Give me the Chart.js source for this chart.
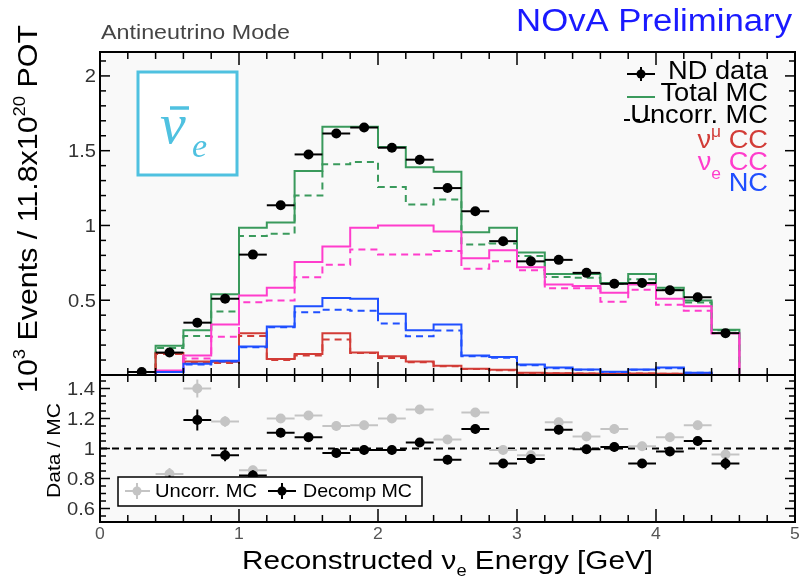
<!DOCTYPE html>
<html>
<head>
<meta charset="utf-8">
<script src="https://cdn.jsdelivr.net/npm/chart.js@4.4.0/dist/chart.umd.min.js"></script>
<style>
  body { margin: 0; background: #fff; }
  #wrap { position: relative; width: 805px; height: 581px; }
  canvas { position: absolute; left: 0; top: 0; }
</style>
</head>
<body>
<div id="wrap">
  <canvas id="mainChart" width="805" height="581"></canvas>
  <canvas id="ratioChart" width="805" height="581"></canvas>
</div>
<script>
// histogram bin edges (GeV), 0.2 GeV bins
var binEdges = [0, 0.2, 0.4, 0.6, 0.8, 1.0, 1.2, 1.4, 1.6, 1.8, 2.0, 2.2, 2.4,
                2.6, 2.8, 3.0, 3.2, 3.4, 3.6, 3.8, 4.0, 4.2, 4.4, 4.6, 4.8, 5.0];

// MC predictions per bin (10^3 events), solid = decomposed, dashed = uncorrected
var totalMC     = [0, 0, 0.195, 0.30, 0.54, 0.985, 1.02, 1.365, 1.66, 1.66, 1.525, 1.39, 1.36,
                   0.955, 0.985, 0.82, 0.675, 0.676, 0.616, 0.676, 0.583, 0.498, 0.303, 0, 0];
var uncorrMC    = [0, 0, 0.18, 0.26, 0.425, 0.93, 0.945, 1.20, 1.41, 1.425, 1.257, 1.14, 1.174,
                   0.873, 0.88, 0.795, 0.656, 0.65, 0.61, 0.64, 0.57, 0.485, 0.30, 0, 0];
var nueCC       = [0, 0, 0.03, 0.13, 0.337, 0.531, 0.583, 0.755, 0.86, 0.985, 1.0, 1.0, 0.96,
                   0.78, 0.835, 0.72, 0.605, 0.595, 0.55, 0.605, 0.51, 0.46, 0.28, 0, 0];
var nueCCUncorr = [0, 0, 0.025, 0.11, 0.255, 0.486, 0.498, 0.654, 0.737, 0.84, 0.805, 0.805, 0.83,
                   0.71, 0.76, 0.70, 0.58, 0.58, 0.49, 0.57, 0.47, 0.43, 0.28, 0, 0];
var numuCC      = [0, 0, 0.147, 0.09, 0.088, 0.28, 0.107, 0.14, 0.28, 0.15, 0.125, 0.09, 0.062,
                   0.042, 0.035, 0.015, 0.012, 0.01, 0.008, 0.01, 0.008, 0.006, 0, 0, 0];
var numuCCUncorr= [0, 0, 0.14, 0.085, 0.08, 0.26, 0.10, 0.13, 0.238, 0.147, 0.114, 0.085, 0.058,
                   0.04, 0.032, 0.013, 0.011, 0.01, 0.008, 0.01, 0.008, 0.006, 0, 0, 0];
var ncMC        = [0, 0, 0.02, 0.075, 0.095, 0.19, 0.325, 0.46, 0.515, 0.51, 0.41, 0.30, 0.337,
                   0.13, 0.12, 0.07, 0.05, 0.037, 0.022, 0.037, 0.05, 0.015, 0, 0, 0];
var ncUncorr    = [0, 0, 0.02, 0.07, 0.09, 0.185, 0.32, 0.42, 0.437, 0.43, 0.344, 0.259, 0.297,
                   0.125, 0.115, 0.065, 0.045, 0.035, 0.02, 0.035, 0.045, 0.015, 0, 0, 0];

// ND data points (bin centres)
var dataX = [0.3, 0.5, 0.7, 0.9, 1.1, 1.3, 1.5, 1.7, 1.9, 2.1, 2.3, 2.5, 2.7, 2.9, 3.1,
             3.3, 3.5, 3.7, 3.9, 4.1, 4.3, 4.5];
var dataY = [0.02, 0.15, 0.35, 0.51, 0.805, 1.135, 1.475, 1.615, 1.655, 1.52, 1.44, 1.25,
             1.095, 0.895, 0.76, 0.77, 0.683, 0.61, 0.615, 0.567, 0.52, 0.28];

// ratio panel
var ratioX      = [0.5, 0.7, 0.9, 1.1, 1.3, 1.5, 1.7, 1.9, 2.1, 2.3, 2.5, 2.7, 2.9, 3.1,
                   3.3, 3.5, 3.7, 3.9, 4.1, 4.3, 4.5];
var ratioUncorr = [0.83, 1.40, 1.18, 0.855, 1.20, 1.22, 1.15, 1.155, 1.20, 1.26, 1.06, 1.24,
                   0.99, 0.955, 1.175, 1.08, 1.13, 1.015, 1.075, 1.155, 0.96];
var errUncorr   = [0.04, 0.06, 0.035, 0.03, 0.03, 0.03, 0.03, 0.03, 0.03, 0.03, 0.03, 0.03,
                   0.03, 0.03, 0.03, 0.03, 0.03, 0.03, 0.03, 0.03, 0.03];
var ratioDecomp = [0.77, 1.19, 0.955, 0.82, 1.105, 1.075, 0.97, 0.99, 0.99, 1.04, 0.925, 1.13,
                   0.90, 0.93, 1.125, 0.995, 1.01, 0.90, 0.98, 1.05, 0.90];
var errDecomp   = [0.05, 0.07, 0.04, 0.035, 0.03, 0.03, 0.03, 0.03, 0.03, 0.03, 0.03, 0.03,
                   0.03, 0.03, 0.03, 0.03, 0.03, 0.03, 0.03, 0.03, 0.04];
var unityX = [0, 5];

// axis tick labels
var xTicks = [0, 1, 2, 3, 4, 5];
var yTicksTop = [0.5, 1, 1.5, 2];
var yTicksRatio = [0.6, 0.8, 1, 1.2, 1.4];

var SANS = '"Liberation Sans", Arial, sans-serif';

function histPoints(vals) {
    var pts = [];
    for (var i = 0; i < vals.length; i++) pts.push({x: binEdges[i], y: vals[i]});
    pts.push({x: binEdges[vals.length], y: vals[vals.length - 1]});
    return pts;
}
function points(xs, ys) {
    return xs.map(function (x, i) { return {x: x, y: ys[i]}; });
}
function hist(vals, color, dashed) {
    return {
        data: histPoints(vals),
        showLine: true, stepped: true, pointRadius: 0,
        borderColor: color, borderWidth: 2, borderDash: dashed ? [7, 5] : [],
        fill: false, clip: 3
    };
}

// rich text: parts drawn one after another, optional rotation and stretch
function fontOf(p) {
    return (p.style || '') + ' ' + p.s + 'px ' + (p.f || SANS);
}
function drawText(ctx, parts, x, y, o) {
    o = o || {};
    ctx.save();
    ctx.translate(x, y);
    if (o.rotate) ctx.rotate(o.rotate);
    var w = 0;
    parts.forEach(function (p) { ctx.font = fontOf(p); p.w = ctx.measureText(p.t).width; w += p.w; });
    var sx = o.width ? o.width / w : (o.sx || 1);
    ctx.scale(sx, 1);
    var cx = o.align === 'right' ? -w : (o.align === 'center' ? -w / 2 : 0);
    ctx.textBaseline = 'alphabetic';
    ctx.textAlign = 'left';
    parts.forEach(function (p) {
        ctx.font = fontOf(p);
        ctx.fillStyle = p.c || o.color || '#000';
        ctx.fillText(p.t, cx, p.dy || 0);
        cx += p.w;
    });
    ctx.restore();
}

function line(ctx, x0, y0, x1, y1) {
    ctx.beginPath(); ctx.moveTo(x0, y0); ctx.lineTo(x1, y1); ctx.stroke();
}

// ROOT style frame with ticks on all four sides
function drawFrame(chart, yStep, yMajorEvery) {
    var ctx = chart.ctx, a = chart.chartArea, xs = chart.scales.x, ys = chart.scales.y;
    ctx.save();
    ctx.strokeStyle = '#000';
    ctx.lineWidth = 1.5;
    for (var k = 0; k <= 25; k++) {
        var x = xs.getPixelForValue(k * 0.2);
        var len = k % 5 === 0 ? 13 : 7;
        line(ctx, x, a.bottom, x, a.bottom - len);
        line(ctx, x, a.top, x, a.top + len);
    }
    var k0 = Math.ceil(ys.min / yStep - 1e-6), k1 = Math.floor(ys.max / yStep + 1e-6);
    for (var j = k0; j <= k1; j++) {
        var y = ys.getPixelForValue(j * yStep);
        var l = j % yMajorEvery === 0 ? 10 : 6;
        line(ctx, a.left, y, a.left + l, y);
        line(ctx, a.right, y, a.right - l, y);
    }
    ctx.lineWidth = 2;
    ctx.strokeRect(a.left, a.top, a.right - a.left, a.bottom - a.top);
    ctx.restore();
}

function plotBackground(chart) {
    var ctx = chart.ctx, a = chart.chartArea;
    ctx.save();
    ctx.fillStyle = '#f9f9f9';
    ctx.fillRect(a.left, a.top, a.right - a.left, a.bottom - a.top);
    ctx.restore();
}

var errorBars = {
    id: 'errorBars',
    beforeDatasetDraw: function (chart, args) {
        var ds = chart.data.datasets[args.index];
        if (!ds.xErr) return;
        var ctx = chart.ctx, xs = chart.scales.x, ys = chart.scales.y;
        ctx.save();
        ctx.strokeStyle = ds.borderColor;
        ctx.lineWidth = 2;
        ds.data.forEach(function (p, i) {
            if (p.y === null) return;
            var y = ys.getPixelForValue(p.y);
            line(ctx, xs.getPixelForValue(p.x - ds.xErr), y, xs.getPixelForValue(p.x + ds.xErr), y);
            if (ds.yErr) {
                var x = xs.getPixelForValue(p.x);
                line(ctx, x, ys.getPixelForValue(p.y - ds.yErr[i]), x, ys.getPixelForValue(p.y + ds.yErr[i]));
            }
        });
        ctx.restore();
    }
};

var mainDecor = {
    id: 'mainDecor',
    beforeDraw: plotBackground,
    afterDraw: function (chart) {
        var ctx = chart.ctx, ys = chart.scales.y;
        drawFrame(chart, 0.1, 5);

        yTicksTop.forEach(function (v) {
            drawText(ctx, [{t: String(v), s: 18}], 96, ys.getPixelForValue(v) + 6.5,
                     {align: 'right', sx: 1.12, color: '#333'});
        });

        drawText(ctx, [{t: 'NOvA Preliminary', s: 31}], 792, 31, {align: 'right', sx: 1.12, color: '#1a1aff'});
        drawText(ctx, [{t: 'Antineutrino Mode', s: 20}], 101, 39, {width: 189, color: '#454545'});
        drawText(ctx, [{t: '10', s: 28}, {t: '3', s: 17, dy: -12}, {t: ' Events / 11.8x10', s: 28},
                       {t: '20', s: 17, dy: -12}, {t: ' POT', s: 28}],
                 37, 393, {rotate: -Math.PI / 2, width: 368});

        // anti nu_e box
        ctx.save();
        ctx.fillStyle = '#ffffff';
        ctx.fillRect(138, 72, 99, 103);
        ctx.strokeStyle = '#4fc1e0';
        ctx.lineWidth = 3;
        ctx.strokeRect(138, 72, 99, 103);
        ctx.lineWidth = 3.5;
        line(ctx, 170, 108, 189, 108);
        ctx.restore();
        drawText(ctx, [{t: 'ν', s: 58, style: 'italic', f: '"Liberation Serif", serif'}], 160, 143, {color: '#4fc1e0'});
        drawText(ctx, [{t: 'e', s: 34, style: 'italic', f: '"Liberation Serif", serif'}], 192, 157, {color: '#4fc1e0'});

        // legend
        ctx.save();
        ctx.lineWidth = 2;
        ctx.strokeStyle = '#000';
        line(ctx, 627, 74, 655, 74);
        line(ctx, 641, 67, 641, 81);
        ctx.fillStyle = '#000';
        ctx.beginPath(); ctx.arc(641, 74, 4.5, 0, 2 * Math.PI); ctx.fill();
        ctx.strokeStyle = '#3a9a5c';
        line(ctx, 627, 97, 655, 97);
        ctx.strokeStyle = '#000';
        ctx.setLineDash([6, 4]);
        line(ctx, 624, 120, 655, 120);
        ctx.restore();

        var lx = 768, lo = {align: 'right', sx: 1.09};
        drawText(ctx, [{t: 'ND data', s: 25}], lx, 79, lo);
        drawText(ctx, [{t: 'Total MC', s: 25}], lx, 101, lo);
        drawText(ctx, [{t: 'Uncorr. MC', s: 25}], lx, 123, lo);
        drawText(ctx, [{t: 'ν', s: 25}, {t: 'μ', s: 16, dy: -11}, {t: ' CC', s: 25}], lx, 148,
                 {align: 'right', sx: 1.09, color: '#d23c37'});
        drawText(ctx, [{t: 'ν', s: 25}, {t: 'e', s: 16, dy: 9}, {t: ' CC', s: 25}], lx, 170,
                 {align: 'right', sx: 1.09, color: '#ff3dcc'});
        drawText(ctx, [{t: 'NC', s: 25}], lx, 191, {align: 'right', sx: 1.09, color: '#1f4fff'});
    }
};

var ratioDecor = {
    id: 'ratioDecor',
    beforeDraw: plotBackground,
    afterDraw: function (chart) {
        var ctx = chart.ctx, xs = chart.scales.x, ys = chart.scales.y;

        // legend box sits over the points
        ctx.save();
        ctx.fillStyle = '#fff';
        ctx.fillRect(118, 477, 304, 29);
        ctx.strokeStyle = '#000';
        ctx.lineWidth = 1.5;
        ctx.strokeRect(118, 477, 304, 29);
        ctx.lineWidth = 2;
        ctx.strokeStyle = '#c4c4c4';
        ctx.fillStyle = '#c4c4c4';
        line(ctx, 125, 491, 150, 491);
        line(ctx, 137, 483, 137, 499);
        ctx.beginPath(); ctx.arc(137, 491, 4.5, 0, 2 * Math.PI); ctx.fill();
        ctx.strokeStyle = '#000';
        ctx.fillStyle = '#000';
        line(ctx, 268, 491, 296, 491);
        line(ctx, 282, 483, 282, 499);
        ctx.beginPath(); ctx.arc(282, 491, 4.5, 0, 2 * Math.PI); ctx.fill();
        ctx.restore();
        drawText(ctx, [{t: 'Uncorr. MC', s: 19}], 155, 497, {width: 102});
        drawText(ctx, [{t: 'Decomp MC', s: 19}], 303, 497, {width: 109});

        drawFrame(chart, 0.05, 4);

        yTicksRatio.forEach(function (v) {
            drawText(ctx, [{t: String(v), s: 18}], 95, ys.getPixelForValue(v) + 6.5,
                     {align: 'right', sx: 1.12, color: '#333'});
        });
        xTicks.forEach(function (v) {
            drawText(ctx, [{t: String(v), s: 16}], xs.getPixelForValue(v), 539,
                     {align: 'center', sx: 1.1, color: '#555'});
        });

        drawText(ctx, [{t: 'Reconstructed ', s: 26}, {t: 'ν', s: 26}, {t: 'e', s: 16, dy: 7},
                       {t: ' Energy [GeV]', s: 26}], 242, 569, {width: 411});
        drawText(ctx, [{t: 'Data / MC', s: 19}], 60, 498, {rotate: -Math.PI / 2, width: 95});
    }
};

var mainChart = new Chart(document.getElementById('mainChart'), {
    type: 'scatter',
    data: {
        datasets: [
            {
                data: points(dataX, dataY),
                pointRadius: 5, pointStyle: 'circle',
                backgroundColor: '#000', borderColor: '#000', borderWidth: 0,
                xErr: 0.1
            },
            hist(ncMC, '#1f4fff', false),
            hist(ncUncorr, '#1f4fff', true),
            hist(nueCC, '#ff3dcc', false),
            hist(nueCCUncorr, '#ff3dcc', true),
            hist(numuCC, '#d23c37', false),
            hist(numuCCUncorr, '#d23c37', true),
            hist(totalMC, '#3a9a5c', false),
            hist(uncorrMC, '#3a9a5c', true)
        ]
    },
    options: {
        responsive: false,
        animation: false,
        devicePixelRatio: 1,
        events: [],
        layout: { padding: { left: 100, right: 10, top: 52, bottom: 206 } },
        scales: {
            x: { type: 'linear', min: 0, max: 5, display: false },
            y: { type: 'linear', min: 0, max: 2.16, display: false }
        },
        plugins: { legend: { display: false }, tooltip: { enabled: false } }
    },
    plugins: [mainDecor, errorBars]
});

var ratioChart = new Chart(document.getElementById('ratioChart'), {
    type: 'scatter',
    data: {
        datasets: [
            {
                data: points(ratioX, ratioDecomp),
                pointRadius: 5, backgroundColor: '#000', borderColor: '#000', borderWidth: 0,
                xErr: 0.1, yErr: errDecomp
            },
            {
                data: points(ratioX, ratioUncorr),
                pointRadius: 5, backgroundColor: '#c4c4c4', borderColor: '#c4c4c4', borderWidth: 0,
                xErr: 0.1, yErr: errUncorr
            },
            {
                data: unityX.map(function (x) { return {x: x, y: 1}; }),
                showLine: true, pointRadius: 0, borderColor: '#000', borderWidth: 2,
                borderDash: [7, 5]
            }
        ]
    },
    options: {
        responsive: false,
        animation: false,
        devicePixelRatio: 1,
        events: [],
        layout: { padding: { left: 100, right: 10, top: 375, bottom: 59 } },
        scales: {
            x: { type: 'linear', min: 0, max: 5, display: false },
            y: { type: 'linear', min: 0.51, max: 1.49, display: false }
        },
        plugins: { legend: { display: false }, tooltip: { enabled: false } }
    },
    plugins: [ratioDecor, errorBars]
});
</script>
</body>
</html>
